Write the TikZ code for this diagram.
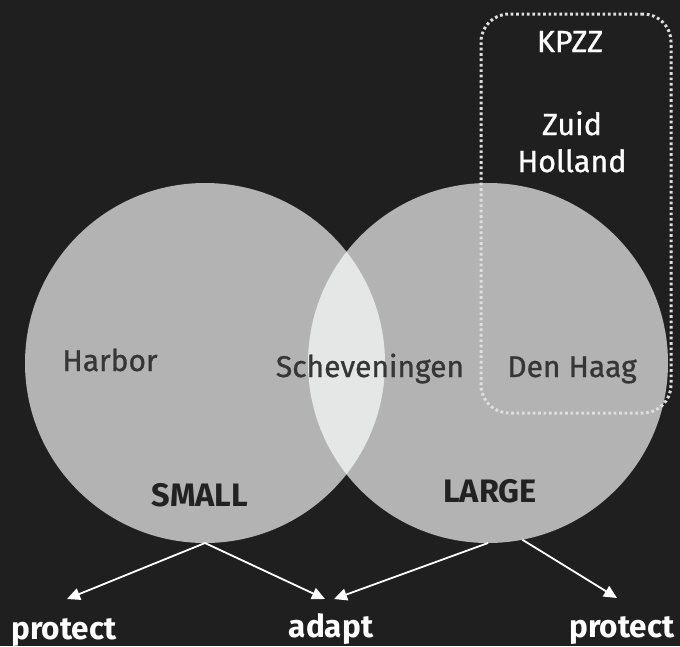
\documentclass[tikz,border=0pt]{standalone}
\usepackage{fontspec}
\setmainfont{Fira Sans}
\newfontfamily\medfont{Fira Sans}[FakeBold=0.9]
\usetikzlibrary{arrows.meta}
\definecolor{bg}{HTML}{1F1F1F}
\definecolor{disc}{HTML}{B3B3B3}
\definecolor{lens}{HTML}{E5E7E7}
\definecolor{ink}{HTML}{363636}
\definecolor{boldink}{HTML}{222222}
\definecolor{dots}{HTML}{DEDEDE}
\tikzset{
  set/.style={circle, fill=disc, minimum size=360pt, inner sep=0pt, outer sep=0pt},
  inlabel/.style={text=ink, font=\medfont\fontsize{30}{35}\selectfont, anchor=base, inner sep=0pt},
  setname/.style={text=boldink, font=\fontsize{32.5}{37}\selectfont\bfseries, anchor=base, inner sep=0pt},
  outlabel/.style={text=white, font=\medfont\fontsize{30.5}{35}\selectfont, anchor=base, inner sep=0pt},
  action/.style={text=white, font=\fontsize{31.5}{36}\selectfont\bfseries, anchor=base, inner sep=0pt},
  flow/.style={draw=white, line width=1.8pt, -{Triangle[length=13pt,width=12pt]}},
  region/.style={draw=dots, line width=3pt, dash pattern=on 2.7pt off 2.7pt,
    rounded corners=28pt, minimum width=190pt, minimum height=399pt, inner sep=0pt}
}
\begin{document}
\begin{tikzpicture}[x=1pt,y=-1pt]
  \fill[bg] (0,0) rectangle (680,646);
  \useasboundingbox (0,0) rectangle (680,646);

  % the two sets and their overlap
  \node[set] (small) at (205,363) {};
  \node[set] (large) at (488,363) {};
  \begin{scope}
    \clip (205,363) circle (180pt);
    \fill[lens] (488,363) circle (180pt);
  \end{scope}

  % dotted region
  \node[region] (kpzzbox) at (576,213.5) {};

  % labels
  \node[outlabel] (kpzz) at (570,52) {KPZZ};
  \node[outlabel] (zuid) at (572,135) {Zuid};
  \node[outlabel] (holland) at (572,172) {Holland};
  \node[inlabel] (harbor) at (110,371) {Harbor};
  \node[inlabel] (schev) at (370,377) {Scheveningen};
  \node[inlabel] (haag) at (572,377) {Den Haag};
  \node[setname] (smalllbl) at (200,506) {SMALL};
  \node[setname] (largelbl) at (490,502) {LARGE};

  \node[action] (protectL) at (64,639) {protect};
  \node[action] (adapt) at (331,637) {adapt};
  \node[action] (protectR) at (622,637) {protect};

  % arrow tips
  \coordinate (tipL) at (67,599);
  \coordinate (tipA1) at (325,599);
  \coordinate (tipA2) at (334,599);
  \coordinate (tipR) at (617,598);

  \draw[flow] (small.-90) -- (tipL);
  \draw[flow] (small.-90) -- (tipA1);
  \draw[flow] (large.-90) -- (tipA2);
  \draw[flow] (large.-79) -- (tipR);
\end{tikzpicture}
\end{document}
